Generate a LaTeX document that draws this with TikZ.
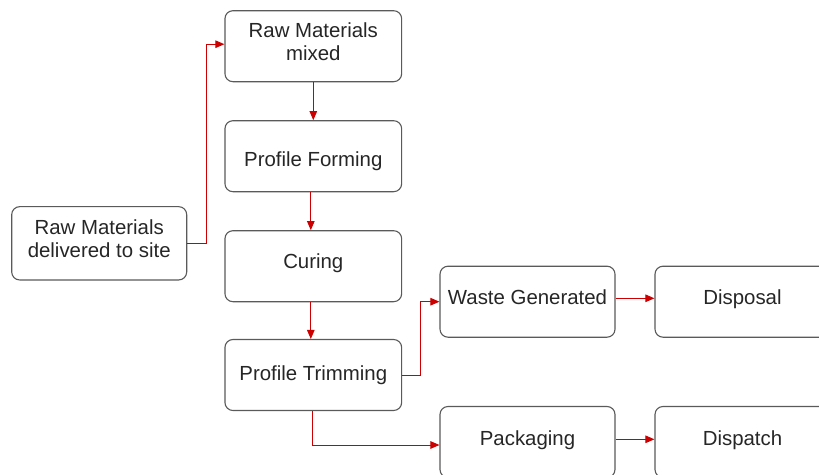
\documentclass[tikz,border=0pt]{standalone}
\usepackage{fontspec}
\setmainfont{Liberation Sans}
\usetikzlibrary{arrows.meta}
\definecolor{flowred}{HTML}{CC0000}
\definecolor{boxgray}{HTML}{5A5A5A}
\tikzset{
  procbox/.style={draw=boxgray, line width=1.1pt, rounded corners=8pt, inner sep=0pt,
    minimum width=176.7pt, minimum height=71pt},
  lbl/.style={inner sep=0pt, font=\fontsize{20.4}{23.3}\selectfont, text=black!85, align=center},
  flow/.style={draw=flowred, line width=1pt, -{Triangle[length=9pt,width=7.5pt]}},
}
\begin{document}
\begin{tikzpicture}[x=1pt,y=-1pt]
\clip (0,0) rectangle (819,474);
\fill[white] (0,0) rectangle (819,474);
% boxes
\node[procbox] (mix) at (313.3,46.2) {};
\node[procbox] (form) at (313.3,156.2) {};
\node[procbox] (cure) at (313.3,266.2) {};
\node[procbox] (trim) at (313.3,375) {};
\node[procbox, minimum width=175pt, minimum height=73.3pt] (deliv) at (99.2,243.3) {};
\node[procbox, minimum width=175pt] (waste) at (527.5,301.7) {};
\node[procbox, minimum width=175pt] (disp) at (742.5,301.7) {};
\node[procbox, minimum width=175pt] (pack) at (527.5,442) {};
\node[procbox, minimum width=175pt] (dispatch) at (742.5,442) {};
% labels
\node[lbl, anchor=center] (mixt) at (313.3,42) {Raw Materials\\mixed};
\node[lbl, anchor=base] (formt) at (313.3,166) {Profile Forming};
\node[lbl, anchor=base] (curet) at (313.3,268.3) {Curing};
\node[lbl, anchor=base] (trimt) at (313.3,380) {Profile Trimming};
\node[lbl, anchor=center] (delivt) at (99.2,239) {Raw Materials\\delivered to site};
\node[lbl, anchor=base] (wastet) at (527.5,304) {Waste Generated};
\node[lbl, anchor=base] (dispt) at (742.5,304) {Disposal};
\node[lbl, anchor=base] (packt) at (527.5,445) {Packaging};
\node[lbl, anchor=base] (dispatcht) at (742.5,445) {Dispatch};
% connectors
\draw[flow] (deliv.east) -- ++(19.5,0) |- ([yshift=2pt]mix.west);
\draw[flow] (mix.south) -- (form.north);
\draw[flow] ([xshift=-2.5pt]form.south) -- ([xshift=-2.5pt]cure.north);
\draw[flow] ([xshift=-2.5pt]cure.south) -- ([xshift=-2.5pt]trim.north);
\draw[flow] (trim.east) -- ++(18,0) |- (waste.west);
\draw[flow] ([xshift=-0.6pt]trim.south) |- ([yshift=-3pt]pack.west);
\draw[flow] ([yshift=3.4pt]waste.east) -- ([yshift=3.4pt]disp.west);
\draw[flow] ([yshift=2.7pt]pack.east) -- ([yshift=2.7pt]dispatch.west);
\end{tikzpicture}
\end{document}
